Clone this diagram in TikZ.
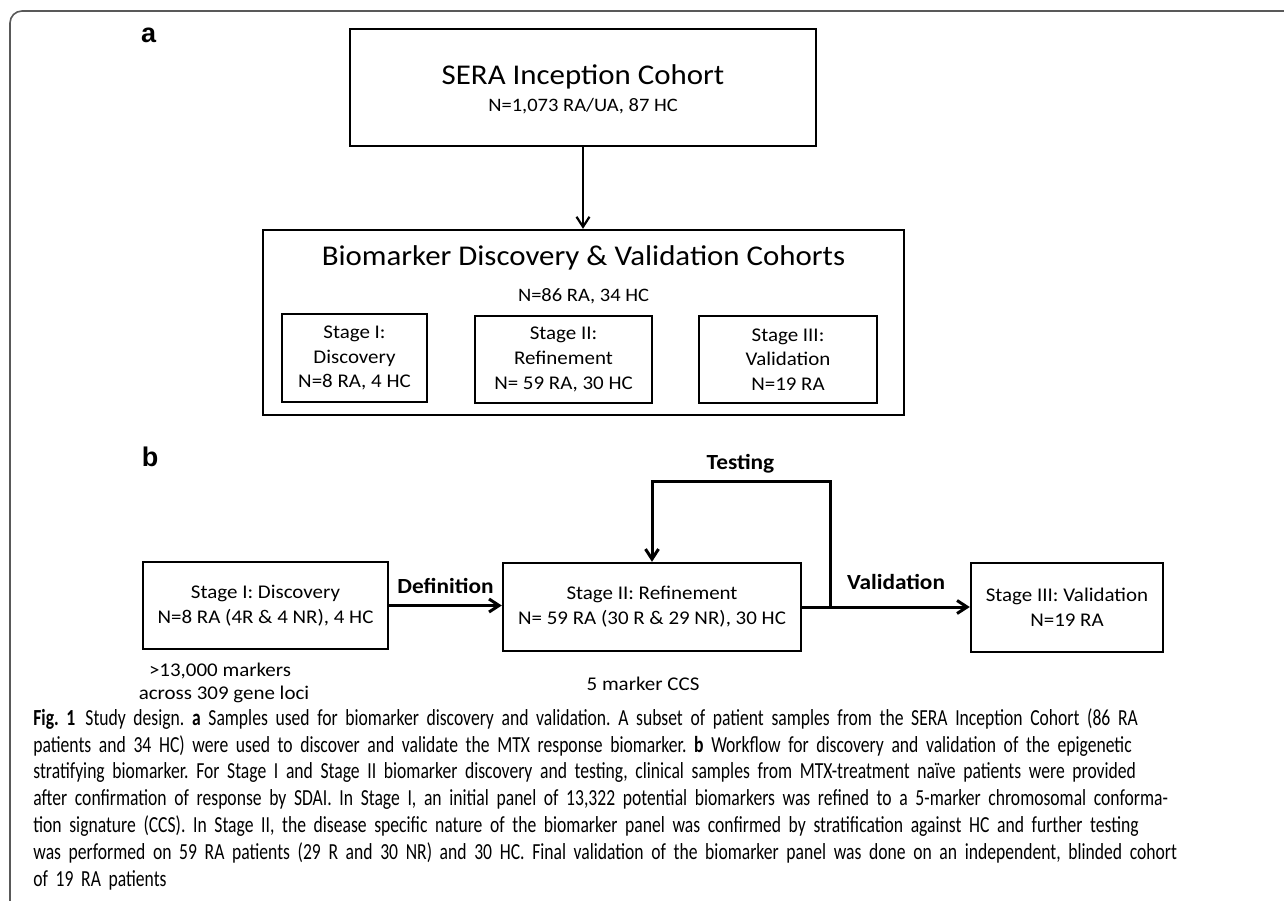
\documentclass[tikz,border=0pt]{standalone}
\usepackage{fontspec}
\setmainfont{Carlito}
\newfontfamily\dfont{Carlito}[FakeStretch=1.08]
\newfontfamily\cfont{Carlito}[FakeStretch=0.765]
\newfontfamily\lfont{Liberation Sans}
\usetikzlibrary{arrows.meta}
\begin{document}
\begin{tikzpicture}[x=0.5pt,y=-0.5pt,
  box/.style={draw=black, line width=1.2pt, inner sep=0pt},
  txt/.style={font=\dfont\fontsize{9.7}{12.4}\selectfont, align=center, inner sep=0pt},
  ttl/.style={font=\dfont\fontsize{14.3}{17}\selectfont, inner sep=0pt},
  sub/.style={font=\dfont\fontsize{9.5}{11}\selectfont, inner sep=0pt},
  blab/.style={font=\dfont\bfseries\fontsize{10.8}{13}\selectfont, inner sep=0pt},
  plab/.style={font=\lfont\bfseries\fontsize{13.5}{15}\selectfont, inner sep=0pt},
  arrA/.style={line width=1.1pt, -{Straight Barb[length=5pt,width=6.5pt]}},
  arrB/.style={line width=1.5pt, -{Straight Barb[length=5pt,width=6.5pt]}},
  frame/.style={draw=black!65, line width=0.8pt, rounded corners=6pt}
]
\useasboundingbox (0,0) rectangle (1284,900);
\fill[white] (0,0) rectangle (1284,900);
% frame
\coordinate (fr1) at (1290,11);
\coordinate (fr2) at (10,11);
\coordinate (fr3) at (10,905);
\draw[frame] (fr1) -- (fr2) -- (fr3);

% panel labels
\node[plab] (la) at (148.7,35.5) {a};
\node[plab] (lb) at (150,456.5) {b};

% panel a
\node[box, minimum width=233pt, minimum height=58.5pt] (sera) at (583,87.5) {};
\node[ttl, anchor=base] (seraT) at (583,84.3) {SERA Inception Cohort};
\node[sub, anchor=base] (seraN) at (583,111.7) {N=1,073 RA/UA, 87 HC};

\node[box, minimum width=320.5pt, minimum height=92.5pt] (big) at (583.5,322.5) {};
\node[ttl, anchor=base] (bigT) at (583.5,265) {Biomarker Discovery \& Validation Cohorts};
\node[sub, anchor=base] (bigN) at (583.5,301.7) {N=86 RA, 34 HC};

\node[box, txt, minimum width=72.5pt, minimum height=44pt] (s1a) at (354.5,358) {Stage I:\\Discovery\\N=8 RA, 4 HC};
\node[box, txt, minimum width=88.5pt, minimum height=43.5pt] (s2a) at (563.5,359.5) {Stage II:\\Refinement\\N= 59 RA, 30 HC};
\node[box, txt, minimum width=89pt, minimum height=43.5pt] (s3a) at (788,359.5) {Stage III:\\Validation\\N=19 RA};

\draw[arrA] (sera.south) -- (sera.south |- big.north);

% panel b
\node[box, txt, minimum width=122.5pt, minimum height=43.5pt] (s1b) at (265.5,605.5) {Stage I: Discovery\\N=8 RA (4R \& 4 NR), 4 HC};
\node[box, txt, minimum width=149pt, minimum height=44pt] (s2b) at (652,607) {Stage II: Refinement\\N= 59 RA (30 R \& 29 NR), 30 HC};
\node[box, txt, minimum width=96pt, minimum height=44.5pt] (s3b) at (1067,607.5) {Stage III: Validation\\N=19 RA};

\draw[arrB] (s1b.east) -- (s1b.east -| s2b.west);
\draw[arrB] (s2b.east) -- (s2b.east -| s3b.west);
\coordinate (j) at (830,607);
\coordinate (tt) at (830,481);
\draw[arrB] (j) -- (tt) -| (s2b.north);

\node[blab, anchor=base] (def) at (445.5,593.3) {Definition};
\node[blab, anchor=base] (tst) at (740.5,469.3) {Testing};
\node[blab, anchor=base] (val) at (896,589.3) {Validation};

\node[txt, anchor=base] (n1a) at (220,676.5) {>13,000 markers};
\node[txt, anchor=base] (n1b) at (224,699.5) {across 309 gene loci};
\node[txt, anchor=base] (n2) at (643,690.5) {5 marker CCS};

% caption
\node[anchor=north west, inner sep=0pt, align=left, text width=600pt,
      font=\cfont\fontsize{11.5}{13.4}\selectfont] (cap) at (33,708) {%
\frenchspacing
{\bfseries Fig.~1}\hspace{5pt}Study design. {\bfseries a} Samples used for biomarker discovery and validation. A subset of patient samples from the SERA Inception Cohort (86 RA\\
patients and 34 HC) were used to discover and validate the MTX response biomarker. {\bfseries b} Workflow for discovery and validation of the epigenetic\\
stratifying biomarker. For Stage I and Stage II biomarker discovery and testing, clinical samples from MTX-treatment naïve patients were provided\\
after confirmation of response by SDAI. In Stage I, an initial panel of 13,322 potential biomarkers was refined to a 5-marker chromosomal conforma-\\
tion signature (CCS). In Stage II, the disease specific nature of the biomarker panel was confirmed by stratification against HC and further testing\\
was performed on 59 RA patients (29 R and 30 NR) and 30 HC. Final validation of the biomarker panel was done on an independent, blinded cohort\\
of 19 RA patients};
\end{tikzpicture}
\end{document}
